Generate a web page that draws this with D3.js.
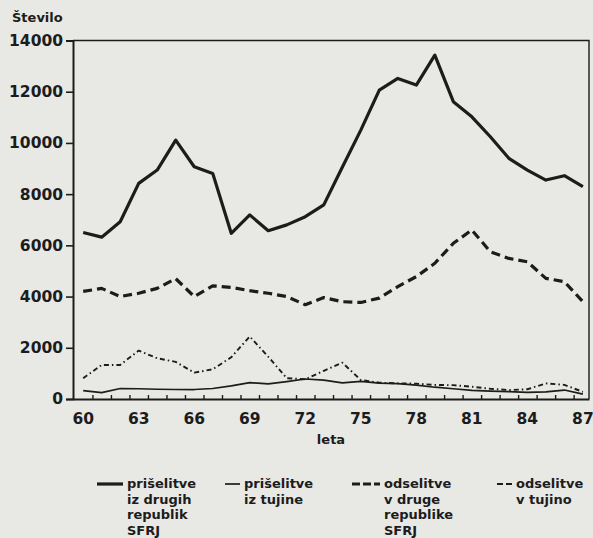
<head>
    <meta charset="utf-8">
    <title>selitve</title>
    <script src="https://d3js.org/d3.v7.min.js"></script>
    <style>
        body {
            margin: 0;
            background: #e8e8e5;
        }
        svg {
            display: block;
            font-family: "DejaVu Sans", sans-serif;
            font-weight: bold;
            fill: #1c1c1c;
        }
    </style>
</head>

<body>
    <svg width="593" height="538"></svg>
    <script>
        // leta 1960 - 1987
        var years = d3.range(60, 88);
        var yTicks = [0, 2000, 4000, 6000, 8000, 10000, 12000, 14000];
        var xLabels = [60, 63, 66, 69, 72, 75, 78, 81, 84, 87];

        // priselitve iz drugih republik SFRJ
        var priselRep = [6500, 6320, 6920, 8420, 8940, 10110, 9070, 8810, 6470, 7190, 6570, 6800, 7120, 7580,
            9050, 10500, 12060, 12520, 12260, 13430, 11610, 11020, 10240, 9400, 8940, 8550, 8720, 8290];
        // priselitve iz tujine
        var priselTuj = [330, 250, 410, 400, 380, 370, 370, 410, 510, 640, 590, 680, 780, 740,
            630, 690, 620, 600, 540, 460, 400, 340, 310, 290, 260, 280, 350, 190];
        // odselitve v druge republike SFRJ
        var odselRep = [4200, 4320, 4000, 4130, 4320, 4700, 4000, 4420, 4360, 4230, 4130, 4000, 3680, 3960,
            3800, 3770, 3940, 4390, 4780, 5300, 6080, 6600, 5750, 5490, 5360, 4710, 4580, 3800];
        // odselitve v tujino
        var odselTuj = [810, 1330, 1330, 1890, 1590, 1450, 1030, 1160, 1630, 2440, 1650, 810, 770, 1100,
            1420, 740, 640, 610, 600, 550, 540, 480, 400, 350, 380, 610, 550, 280];

        var legendLabels = [
            ["prišelitve", "iz drugih", "republik", "SFRJ"],
            ["prišelitve", "iz tujine"],
            ["odselitve", "v druge", "republike", "SFRJ"],
            ["odselitve", "v tujino"]
        ];

        var styles = [
            { width: 3.2, dash: null },
            { width: 1.7, dash: null },
            { width: 3.2, dash: "9,5" },
            { width: 1.9, dash: "5,3,1.5,3" }
        ];
        var series = [priselRep, priselTuj, odselRep, odselTuj];

        var svg = d3.select("svg");
        var plotLeft = 73, plotRight = 589, plotTop = 40.5, plotBottom = 399;

        var x = d3.scaleLinear().domain([59.45, 87.33]).range([plotLeft, plotRight]);
        var y = d3.scaleLinear().domain([0, 14000]).range([plotBottom, plotTop]);

        // okvir
        svg.append("path")
            .attr("d", "M" + plotLeft + "," + plotTop + "H" + plotRight + "V" + plotBottom)
            .attr("fill", "none")
            .attr("stroke", "#1c1c1c")
            .attr("stroke-width", 1.4);

        // y os
        var yAxis = svg.append("g")
            .attr("transform", "translate(" + plotLeft + ",0)")
            .call(d3.axisLeft(y).tickValues(yTicks).tickSize(7).tickPadding(3).tickFormat(d3.format("d")));
        yAxis.select(".domain").attr("stroke-width", 2).attr("stroke", "#1c1c1c");
        yAxis.selectAll(".tick line").attr("stroke-width", 1.6).attr("stroke", "#1c1c1c");
        yAxis.selectAll("text")
            .attr("font-size", 15.5)
            .attr("font-family", "DejaVu Sans")
            .attr("font-weight", "bold")
            .attr("fill", "#1c1c1c");

        // x os - kratke crtice med leti, napisi vsaka tri leta
        var xAxis = svg.append("g")
            .attr("transform", "translate(0," + plotBottom + ")")
            .call(d3.axisBottom(x).tickValues(d3.range(60.5, 87, 1)).tickSizeInner(-4).tickSizeOuter(0).tickFormat(""));
        xAxis.select(".domain").attr("stroke-width", 2).attr("stroke", "#1c1c1c");
        xAxis.selectAll(".tick line").attr("stroke-width", 1.4).attr("stroke", "#1c1c1c");

        svg.append("g")
            .selectAll("text")
            .data(xLabels)
            .enter()
            .append("text")
            .attr("x", function (d) { return x(d); })
            .attr("y", 424)
            .attr("text-anchor", "middle")
            .attr("font-size", 15.5)
            .text(function (d) { return d; });

        svg.append("text")
            .attr("x", 331)
            .attr("y", 444)
            .attr("text-anchor", "middle")
            .attr("font-size", 13)
            .text("leta");

        svg.append("text")
            .attr("x", 12)
            .attr("y", 22)
            .attr("font-size", 13)
            .text("Število");

        // crte
        var line = d3.line()
            .x(function (d, i) { return x(years[i]); })
            .y(function (d) { return y(d); });

        svg.append("g")
            .selectAll("path")
            .data(series)
            .enter()
            .append("path")
            .attr("d", line)
            .attr("fill", "none")
            .attr("stroke", "#1c1c1c")
            .attr("stroke-linejoin", "round")
            .attr("stroke-width", function (d, i) { return styles[i].width; })
            .attr("stroke-dasharray", function (d, i) { return styles[i].dash; });

        // legenda
        var legendX = [97, 225, 352, 497];
        var legendLen = [26, 15, 28, 15];
        var legend = svg.append("g")
            .selectAll("g")
            .data(legendLabels)
            .enter()
            .append("g")
            .attr("transform", function (d, i) { return "translate(" + legendX[i] + ",484)"; });

        legend.append("line")
            .attr("x1", 0)
            .attr("x2", function (d, i) { return legendLen[i]; })
            .attr("stroke", "#1c1c1c")
            .attr("stroke-width", function (d, i) { return styles[i].width; })
            .attr("stroke-dasharray", function (d, i) { return i == 2 ? "8,3" : (i == 3 ? "6,3" : null); });

        legend.each(function (d, i) {
            d3.select(this).selectAll("text")
                .data(d)
                .enter()
                .append("text")
                .attr("x", legendLen[i] + 4)
                .attr("y", function (t, j) { return 4 + j * 15.5; })
                .attr("font-size", 13)
                .text(function (t) { return t; });
        });
    </script>

</body>
